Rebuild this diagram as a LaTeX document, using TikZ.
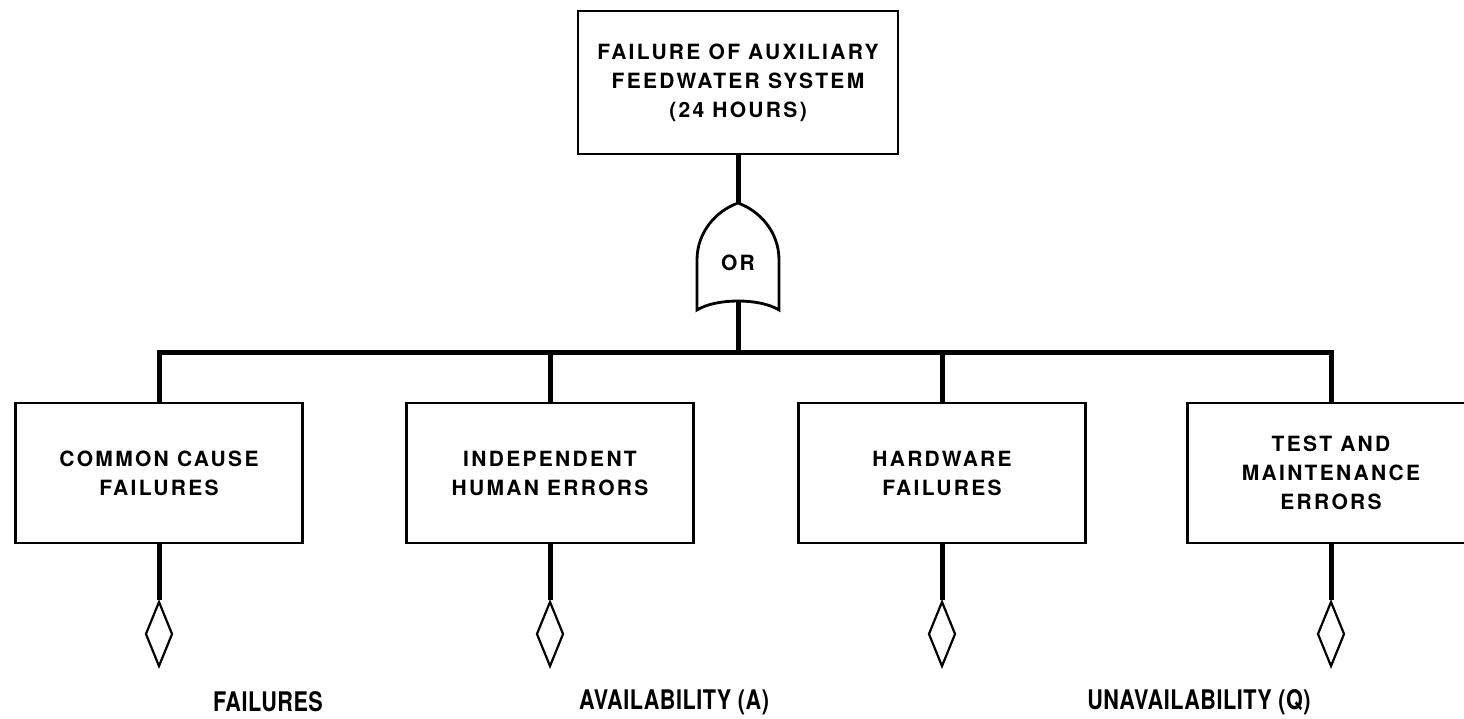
\documentclass[tikz,border=0pt]{standalone}
\usepackage{fontspec}
\setmainfont{TeX Gyre Heros}
\newfontfamily\lettering[LetterSpace=11]{TeX Gyre Heros}
\newfontfamily\bigletters[LetterSpace=2,FakeStretch=0.8]{TeX Gyre Heros}
\usetikzlibrary{shapes.geometric}
\tikzstyle{event}=[draw,line width=2.5pt,minimum width=287pt,minimum height=140pt,
    align=center,font=\lettering\bfseries\fontsize{21}{29}\selectfont]
\tikzstyle{wire}=[line width=5pt]
\tikzstyle{gate}=[line width=2.8pt]
\tikzstyle{basic}=[draw,diamond,line width=2.2pt,inner sep=0pt,
    minimum width=27pt,minimum height=65pt]
\tikzstyle{result}=[font=\bigletters\bfseries\fontsize{27}{30}\selectfont]
\newcommand{\orGate}[2]{
\begin{scope}[shift={(#2)}]
\draw[gate] (0,-54) .. controls (-22,-46) and (-41,-25) .. (-41,3) -- (-41,53)
    .. controls (-22,41) and (22,41) .. (41,53) -- (41,3)
    .. controls (41,-25) and (22,-46) .. (0,-54) -- cycle;
\coordinate (#1-in) at (0,-54);
\coordinate (#1-out) at (0,44);
\node[font=\lettering\bfseries\fontsize{21}{24}\selectfont] (#1) at (0,6) {OR};
\end{scope}
}

\begin{document}
\begin{tikzpicture}[x=1pt,y=-1pt]
\useasboundingbox (0,0) rectangle (1464,718);
%top event
\node[event,minimum width=320pt,minimum height=143pt] (top) at (738,82.5)
    {FAILURE OF AUXILIARY\\FEEDWATER SYSTEM\\(24 HOURS)};
\orGate{orgate}{738,257}
\draw[wire] (top.south) -- (orgate-in);
\coordinate (bus) at (738,352);
\draw[wire] (orgate-out) -- (bus);
%the four inputs
\node[event] (ev1) at (159,473) {COMMON CAUSE\\FAILURES};
\node[event] (ev2) at (550,473) {INDEPENDENT\\HUMAN ERRORS};
\node[event] (ev3) at (942,473) {HARDWARE\\FAILURES};
\node[event] (ev4) at (1331,473) {TEST AND\\MAINTENANCE\\ERRORS};
\draw[wire,line cap=rect] (ev1.north |- bus) -- (ev4.north |- bus);
\foreach \i in {1,...,4}{
  \draw[wire] (ev\i.north |- bus) -- (ev\i.north);
  \node[basic] (d\i) at (ev\i.south |- 0,634) {};
  \draw[wire] (ev\i.south) -- (d\i.north);
}
%bottom labels
\node[result] (lab1) at (268,702) {FAILURES};
\node[result] (lab2) at (674,702) {AVAILABILITY (A)};
\node[result] (lab3) at (1199,702) {UNAVAILABILITY (Q)};
\end{tikzpicture}
\end{document}
